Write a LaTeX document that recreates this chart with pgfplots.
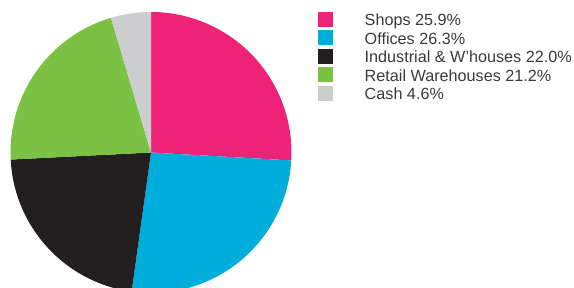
\documentclass[border=0pt]{standalone}
\usepackage{pgfplots}
\pgfplotsset{compat=1.18}
\usepackage{fontspec}
\setmainfont{Liberation Sans}
\definecolor{cshops}{HTML}{EE2277}
\definecolor{coffices}{HTML}{00AEDB}
\definecolor{cindus}{HTML}{231F20}
\definecolor{cretail}{HTML}{7BC143}
\definecolor{ccash}{HTML}{CBCDCF}
\definecolor{textgrey}{HTML}{3A3A3A}
% shares in percent
\def\pShops{25.9}
\def\pOffices{26.3}
\def\pIndus{22.0}
\def\pRetail{21.2}
\def\pCash{4.6}
\def\R{140.5pt}
% sector: colour, cumulative start %, cumulative end %
\newcommand{\sector}[3]{%
  \fill[#1] (axis cs:151,135.5) -- ++({90-3.6*(#2)}:\R)
    arc[start angle={90-3.6*(#2)}, end angle={90-3.6*(#3)}, radius=\R] -- cycle;}
\begin{document}
\begin{tikzpicture}
\useasboundingbox (0,0) rectangle (574pt,288pt);
\begin{axis}[at={(0,0)}, anchor=south west, scale only axis,
  width=574pt, height=288pt, xmin=0, xmax=574, ymin=0, ymax=288,
  hide axis, clip=true,
  legend cell align=left,
  legend style={at={(axis cs:318,276)}, anchor=north west, draw=none, fill=none,
    inner sep=0pt, outer sep=0pt, row sep=1pt,
    font=\fontsize{16.2}{17}\selectfont, text=textgrey,
    /tikz/every odd column/.append style={column sep=30pt}},
  legend image code/.code={\fill[#1] (0pt,-5.85pt) rectangle (14.7pt,8.85pt);}]
\sector{cshops}{0}{\pShops}
\sector{coffices}{\pShops}{\pShops+\pOffices}
\sector{cindus}{\pShops+\pOffices}{\pShops+\pOffices+\pIndus}
\sector{cretail}{\pShops+\pOffices+\pIndus}{\pShops+\pOffices+\pIndus+\pRetail}
\sector{ccash}{\pShops+\pOffices+\pIndus+\pRetail}{100}
\addlegendimage{fill=cshops, draw=none}
\addlegendentry{Shops 25.9\%}
\addlegendimage{fill=coffices, draw=none}
\addlegendentry{Offices 26.3\%}
\addlegendimage{fill=cindus, draw=none}
\addlegendentry{Industrial \& W'houses 22.0\%}
\addlegendimage{fill=cretail, draw=none}
\addlegendentry{Retail Warehouses 21.2\%}
\addlegendimage{fill=ccash, draw=none}
\addlegendentry{Cash 4.6\%}
\end{axis}
\end{tikzpicture}
\end{document}
